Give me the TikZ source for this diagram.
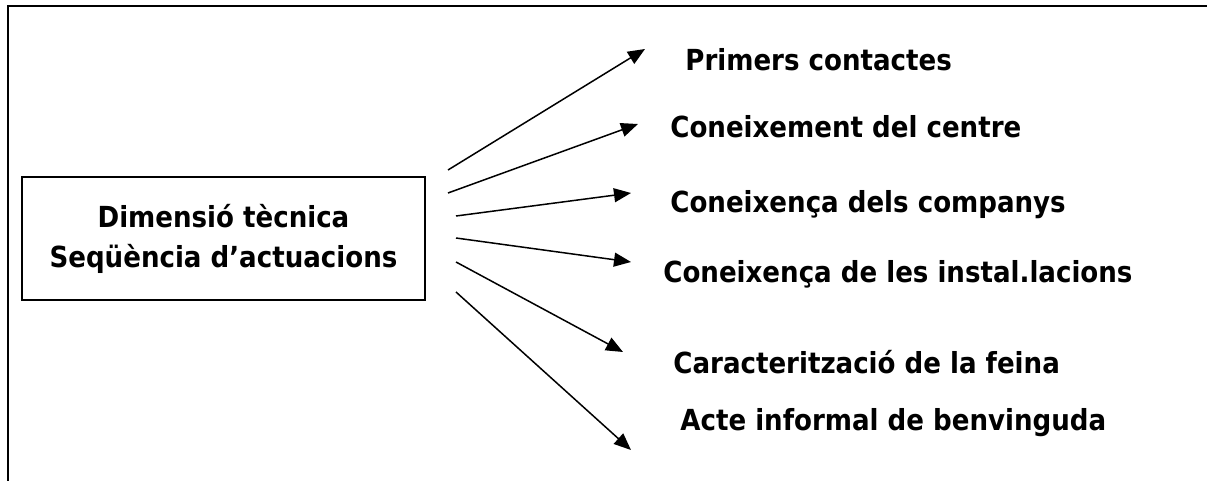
\documentclass[tikz,border=0pt]{standalone}
\usepackage{fontspec}
\setmainfont{DejaVu Sans Condensed}
\usetikzlibrary{arrows.meta}
\tikzset{> = {Triangle[length=8.5pt,width=7pt]}, color=black}
\tikzset{
  etiqueta/.style={anchor=base west, inner sep=0pt, font=\fontsize{14.5}{16}\selectfont\bfseries},
  fletxa/.style={->, line width=0.75pt},
}
\begin{document}
\begin{tikzpicture}[x=0.5pt,y=-0.5pt]
		\useasboundingbox (0,0) rectangle (1207,481);
		% marc
		\draw[line width=1pt] (7.5,481)--(7.5,6.5)--(1207,6.5);
		% caixa central
		\node[draw, line width=1pt, minimum width=201.5pt, minimum height=61.5pt, align=center,
		      font=\fontsize{14.5}{20}\selectfont\bfseries] (dim) at (223.5,239)
		      {Dimensió tècnica\\Seqüència d’actuacions};
		% sortides i puntes
		\coordinate (s1) at (448,170); \coordinate (t1) at (645,49);
		\coordinate (s2) at (448,193); \coordinate (t2) at (638,124);
		\coordinate (s3) at (456,216); \coordinate (t3) at (631,193);
		\coordinate (s4) at (456,238); \coordinate (t4) at (631,262);
		\coordinate (s5) at (456,262); \coordinate (t5) at (623,352);
		\coordinate (s6) at (456,292); \coordinate (t6) at (631,450);
		\foreach \i in {1,...,6} \draw[fletxa] (s\i)--(t\i);
		% fases
		\node[etiqueta] (primers) at (685,71) {Primers contactes};
		\node[etiqueta] (centre) at (670,138) {Coneixement del centre};
		\node[etiqueta] (companys) at (670,213) {Coneixença dels companys};
		\node[etiqueta] (instal) at (663,283) {Coneixença de les instal.lacions};
		\node[etiqueta] (feina) at (673,373) {Caracterització de la feina};
		\node[etiqueta] (acte) at (680,430) {Acte informal de benvinguda};
		\end{tikzpicture}
\end{document}
